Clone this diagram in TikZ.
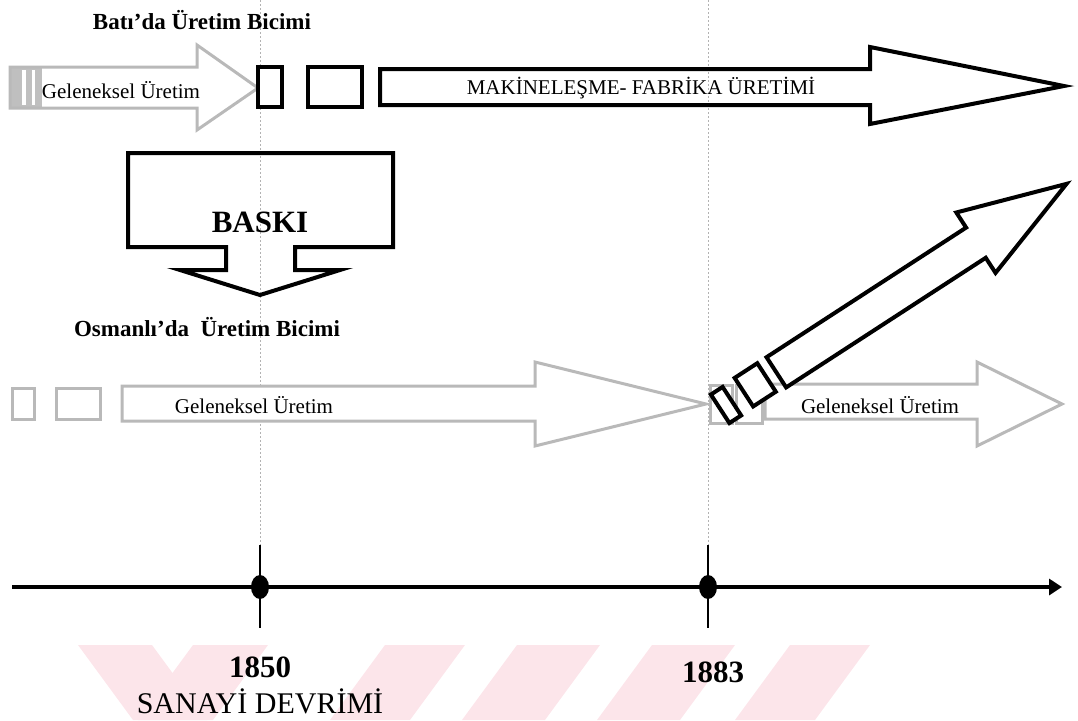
\documentclass[tikz,border=0pt]{standalone}
\usepackage{fontspec}
\setmainfont{Liberation Serif}
\usetikzlibrary{arrows.meta}
\definecolor{wmpink}{RGB}{252,229,234}
\tikzset{
  garrow/.style={draw=gray!55, line width=3pt, fill=white, line join=miter},
  barrow/.style={draw=black, line width=4pt, line join=miter},
  bbox/.style={draw=black, line width=4pt, fill=white},
  gbox/.style={draw=gray!55, line width=3pt, fill=white},
  lbl/.style={font=\fontsize{21}{24}\selectfont, inner sep=0pt},
  ttl/.style={font=\bfseries\fontsize{23}{26}\selectfont, inner sep=0pt},
  yr/.style={font=\bfseries\fontsize{31}{34}\selectfont, inner sep=0pt},
  guide/.style={draw=gray!60, line width=0.7pt, dash pattern=on 2pt off 2pt},
  wm/.style={fill=wmpink, draw=none},
}
\begin{document}
\begin{tikzpicture}[x=1pt,y=-1pt]
\useasboundingbox (0,0) rectangle (1078,720);
% watermark stripes
\fill[wm] (78,645) -- (152,645) -- (207,720) -- (133,720) -- cycle;
\fill[wm] (193,645) -- (268,645) -- (213,720) -- (138,720) -- cycle;
\fill[wm] (385,645) -- (465,645) -- (410,720) -- (330,720) -- cycle;
\fill[wm] (517,645) -- (600,645) -- (545,720) -- (462,720) -- cycle;
\fill[wm] (652,645) -- (735,645) -- (680,720) -- (597,720) -- cycle;
\fill[wm] (790,645) -- (870,645) -- (815,720) -- (735,720) -- cycle;
% guides
\coordinate (g1t) at (260,0); \coordinate (g1b) at (260,545);
\coordinate (g2t) at (708,0); \coordinate (g2b) at (708,545);
\draw[guide] (g1t) -- (g1b);
\draw[guide] (g2t) -- (g2b);
% timeline
\coordinate (tl0) at (12,587); \coordinate (tl1) at (1062,587);
\draw[line width=4pt, -{Triangle[length=13pt,width=16pt]}] (tl0) -- (tl1);
\coordinate (t1a) at (260,545); \coordinate (t1b) at (260,628);
\coordinate (t2a) at (708,545); \coordinate (t2b) at (708,628);
\draw[line width=2.5pt] (t1a) -- (t1b);
\draw[line width=2.5pt] (t2a) -- (t2b);
\fill (260,587) ellipse [x radius=9pt, y radius=12pt];
\fill (708,587) ellipse [x radius=9pt, y radius=12pt];
% top west row
\fill[gray!50] (10,67) rectangle (42,108);
\fill[white] (22,70) rectangle (26,105);
\fill[white] (32,70) rectangle (35,105);
\draw[garrow, fill=none] (10,67) -- (197,67) -- (197,45) -- (258,88) -- (197,130) -- (197,108) -- (10,108) -- cycle;
\draw[bbox] (258,67) rectangle (282,107);
\draw[bbox] (308,67) rectangle (362,107);
\draw[barrow] (380,69) -- (870,69) -- (870,47) -- (1064,86) -- (870,124) -- (870,105) -- (380,105) -- cycle;
% BASKI
\draw[barrow] (128,153) -- (393,153) -- (393,247) -- (295,247) -- (295,270) -- (340,270) -- (260,295) -- (180,270) -- (226,270) -- (226,247) -- (128,247) -- cycle;
% Ottoman row
\draw[gbox] (12,388) rectangle (34,419);
\draw[gbox] (56,388) rectangle (100,419);
\draw[garrow] (122,386) -- (535,386) -- (535,362) -- (706,404) -- (535,446) -- (535,421) -- (122,421) -- cycle;
\draw[gbox] (710,385) rectangle (732,423);
\draw[gbox] (736,385) rectangle (762,423);
\draw[garrow] (765,384) -- (977,384) -- (977,362) -- (1062,404) -- (977,446) -- (977,419) -- (765,419) -- cycle;
\begin{scope}[shift={(726,405)}, rotate=33]
  \draw[bbox] (-7,-17) rectangle (7,17);
  \draw[bbox] (22,-18) rectangle (49,16);
  \draw[barrow, fill=white] (60,-18) -- (298,-18) -- (298,-36) -- (406,0) -- (298,36) -- (298,18) -- (60,18) -- cycle;
\end{scope}
% texts
\node[ttl] (batiT) at (202,20) {Batı’da Üretim Bicimi};
\node[lbl] (gel1) at (121,90) {Geleneksel Üretim};
\node[lbl] (mak) at (641,88) {MAKİNELEŞME- FABRİKA ÜRETİMİ};
\node[font=\bfseries\fontsize{31}{34}\selectfont, inner sep=0pt] (baski) at (260,222) {BASKI};
\node[ttl] (osmT) at (207,327) {Osmanlı’da\ \ Üretim Bicimi};
\node[lbl] (gel2) at (254,405) {Geleneksel Üretim};
\node[lbl] (gel3) at (880,405) {Geleneksel Üretim};
\node[yr] (y1850) at (260,667) {1850};
\node[font=\fontsize{30}{32}\selectfont, inner sep=0pt] (sanayi) at (260,701) {SANAYİ DEVRİMİ};
\node[yr] (y1883) at (713,672) {1883};
\end{tikzpicture}
\end{document}
